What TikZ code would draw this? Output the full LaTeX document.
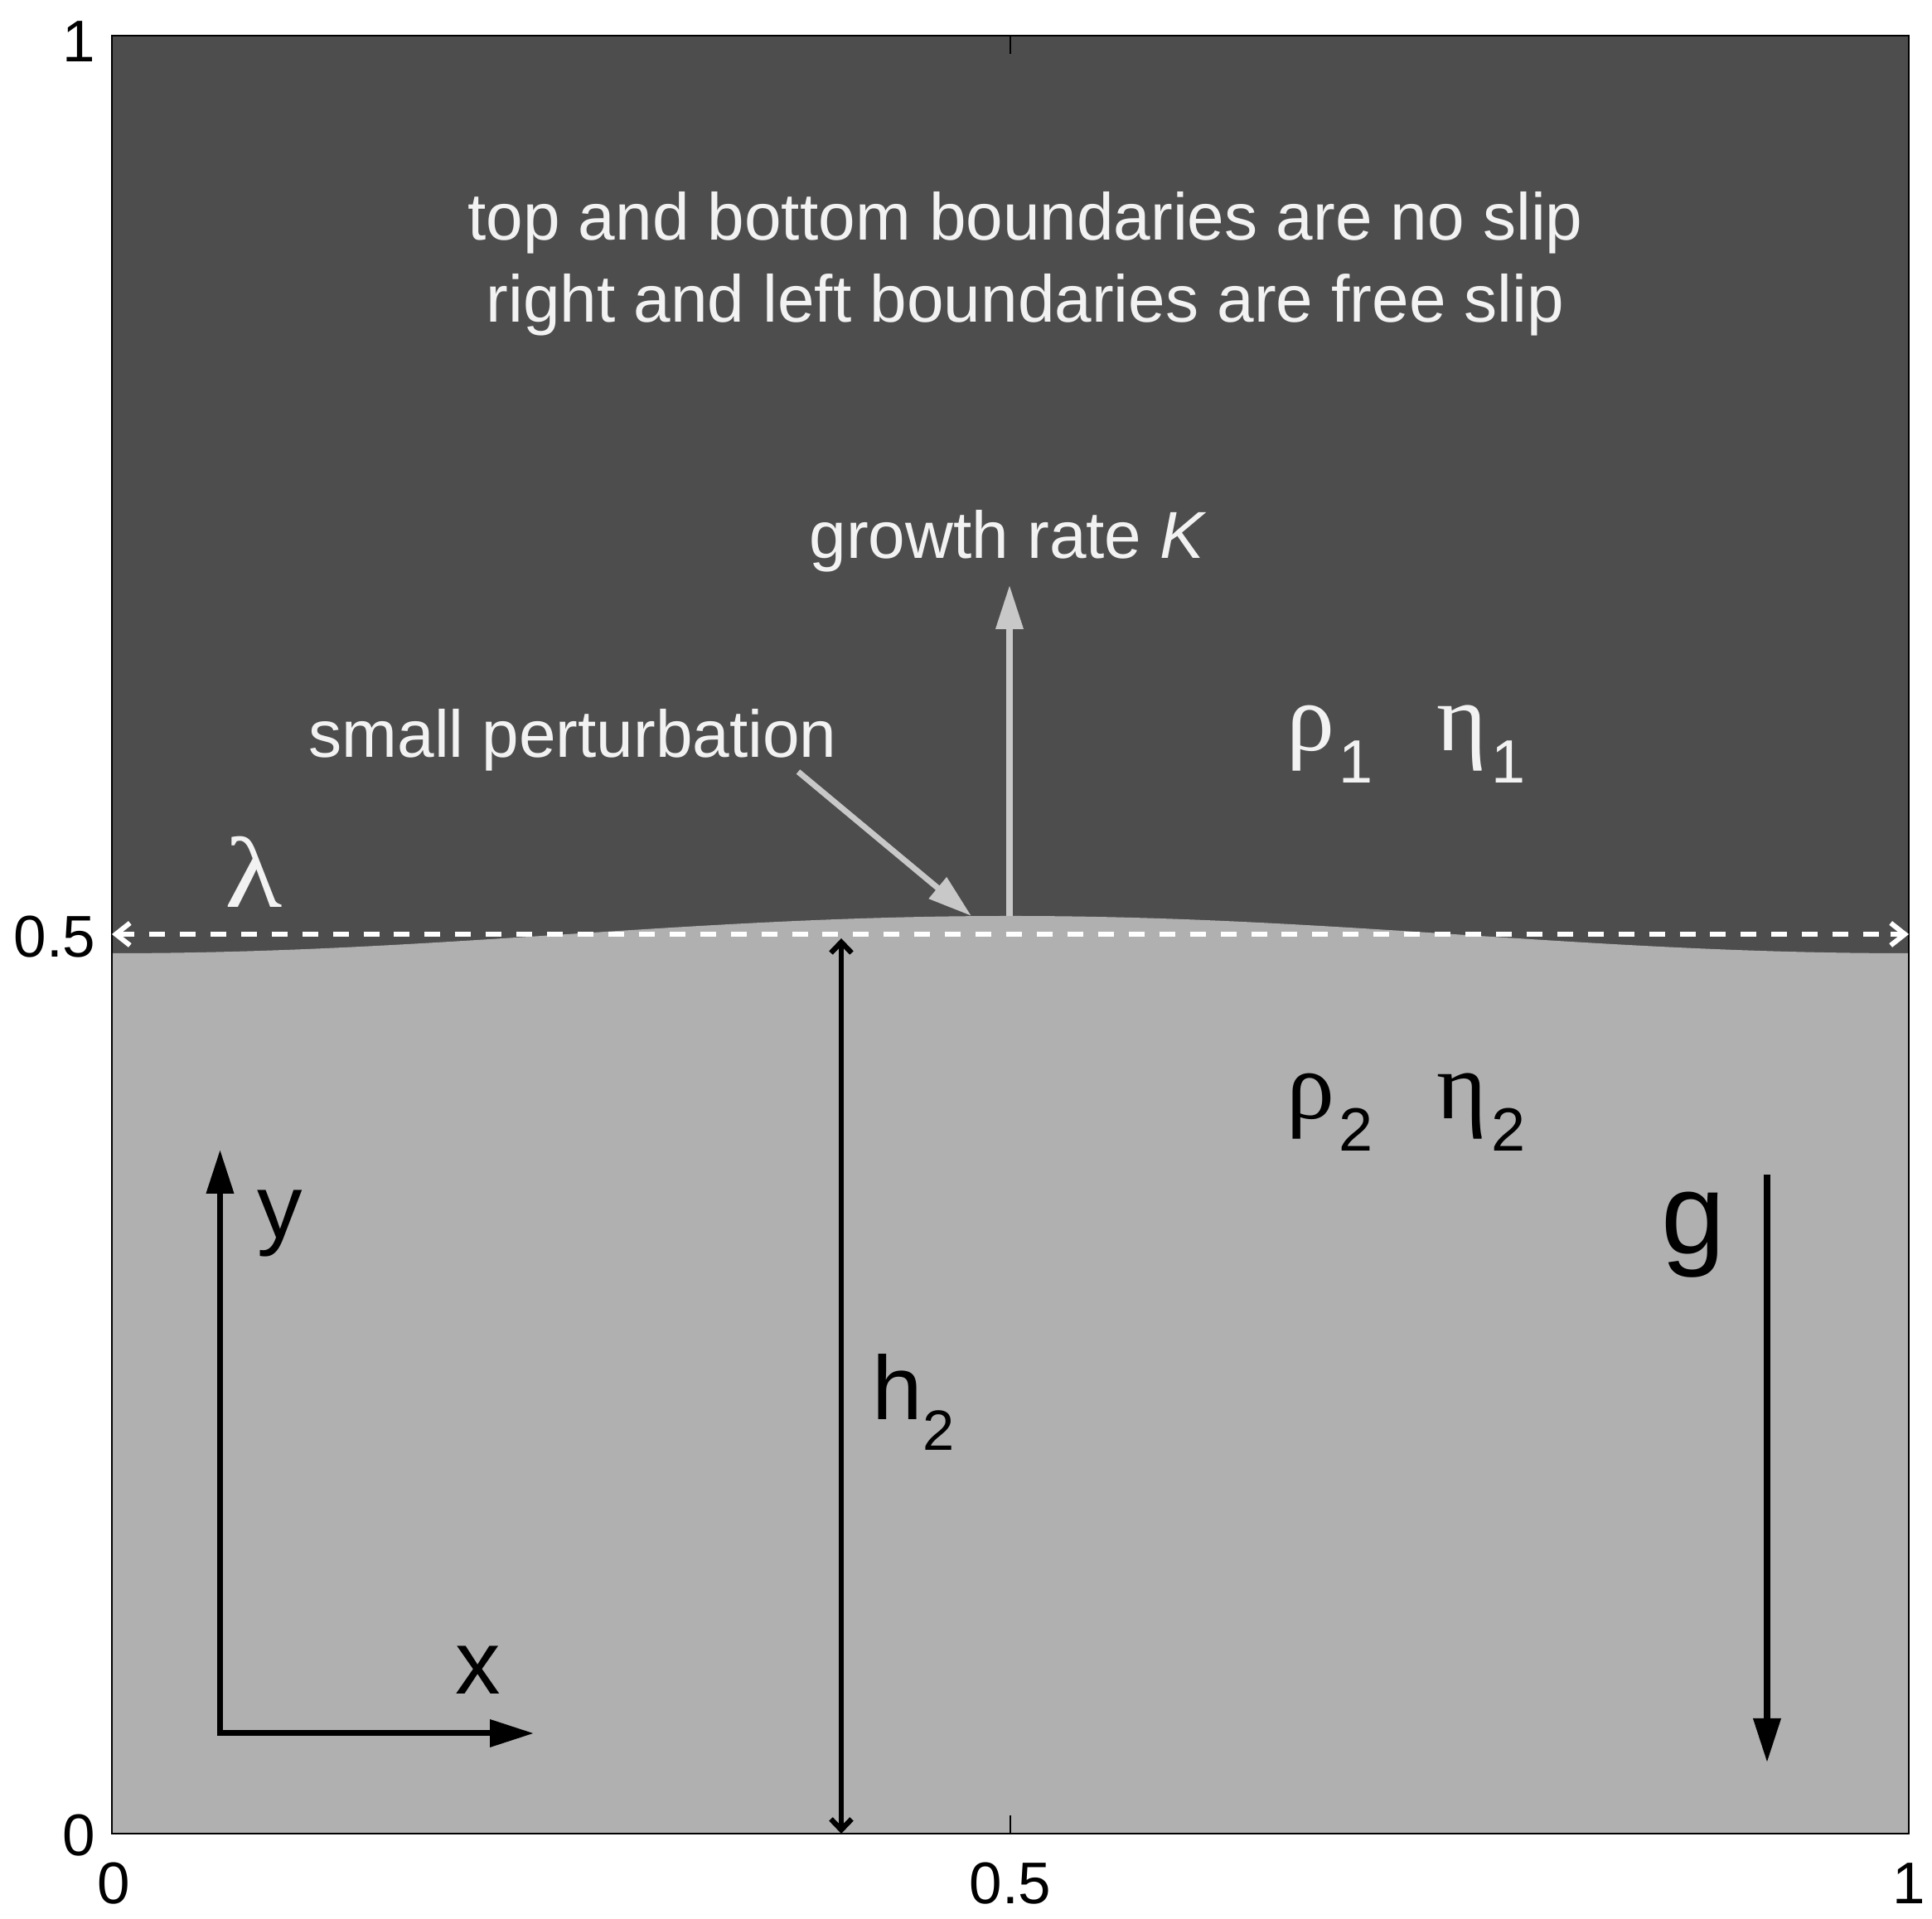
\documentclass[tikz,border=0pt]{standalone}
\usepackage{fontspec}
\usetikzlibrary{arrows.meta}
\setmainfont{Liberation Sans}
\setsansfont{Liberation Sans}
\newfontfamily\greekfont{Liberation Serif}
\definecolor{upperfluid}{HTML}{4D4D4D}
\definecolor{lowerfluid}{HTML}{B0B0B0}
\definecolor{paletext}{HTML}{F2F2F2}
\definecolor{palearrow}{HTML}{C8C8C8}
\newcommand{\boxll}[0]{(1.35, 1.03)}
\newcommand{\boxur}[0]{(23.03, 22.72)}
\newcommand{\boxlr}[0]{(23.03, 1.03)}
\newcommand{\latinsub}[2]{#1\raisebox{-0.37cm}{\fontsize{19.5}{20}\selectfont\sffamily #2}}
\newcommand{\greeksub}[2]{#1\hspace{0.05cm}\raisebox{-0.385cm}{\fontsize{21}{22}\selectfont\sffamily #2}}
\tikzset{
  ticklabel/.style={font=\fontsize{20.2}{25}\selectfont, inner sep=0pt},
  notelabel/.style={font=\fontsize{22.8}{27}\selectfont, text=paletext, inner sep=0pt, anchor=base},
  biglabel/.style={font=\fontsize{31}{36}\selectfont, inner sep=0pt, anchor=base},
  greeklabel/.style={font=\fontsize{33}{36}\selectfont\greekfont, inner sep=0pt, anchor=base west},
  palearrowline/.style={draw=palearrow, line width=2pt, -{Triangle[length=0.53cm, width=0.32cm]}},
  darkarrowline/.style={draw=black, line width=2pt, -{Triangle[length=0.53cm, width=0.32cm]}},
  heightline/.style={line width=1.8pt, {Straight Barb[length=0.13cm, width=0.25cm, line width=1.8pt]}-{Straight Barb[length=0.13cm, width=0.25cm, line width=1.8pt]}},
  waveline/.style={white, line width=1.7pt, -{Straight Barb[length=0.17cm, width=0.27cm, line width=1.7pt]}},
  wavedash/.style={white, line width=1.7pt, dash pattern=on 0.19cm off 0.1793cm}
}

\begin{document}
\begin{tikzpicture}
\useasboundingbox (0, 0) rectangle (23.31, 23.15);
\fill [upperfluid] \boxll{} rectangle \boxur{};
\fill [lowerfluid] \boxll{} -- plot [domain=0:1, samples=121] ({1.35 + 21.68*\x}, {11.875 - 0.225*cos(360*\x)}) -- \boxlr{} -- cycle;
% ticks
\draw [line width=0.6pt] (12.19, 1.03) -- (12.19, 1.25);
\draw [line width=0.6pt] (12.19, 22.72) -- (12.19, 22.50);
\draw [line width=0.6pt] (1.35, 11.88) -- (1.57, 11.88);
\draw [line width=0.6pt] (23.03, 11.88) -- (22.81, 11.88);
\draw [line width=0.8pt] \boxll{} rectangle \boxur{};
% tick labels
\node [ticklabel, anchor=base] (xzero) at (1.37, 0.18) {0};
\node [ticklabel, anchor=base] (xhalf) at (12.19, 0.18) {0.5};
\node [ticklabel, anchor=base] (xone) at (23.03, 0.18) {1};
\node [ticklabel, anchor=base east] (yzero) at (1.16, 0.76) {0};
\node [ticklabel, anchor=base east] (yhalf) at (1.16, 11.60) {0.5};
\node [ticklabel, anchor=base east] (yone) at (1.16, 22.40) {1};
% wavelength
\coordinate (waveleft) at (1.35, 11.88);
\coordinate (waveleftend) at (1.62, 11.88);
\coordinate (wavedashleft) at (1.80, 11.88);
\coordinate (wavedashright) at (22.67, 11.88);
\coordinate (waverightend) at (22.81, 11.88);
\coordinate (waveright) at (23.03, 11.88);
\draw [waveline] (waveleftend) -- (waveleft);
\draw [waveline] (waverightend) -- (waveright);
\draw [wavedash] (wavedashleft) -- (wavedashright);
\node [greeklabel, text=paletext, font=\fontsize{34.5}{40}\selectfont\greekfont] (wavelabel) at (2.71, 12.20) {\scalebox{1.18}[1]{λ}};
% growth
\coordinate (growthfoot) at (12.18, 12.10);
\coordinate (growthtip) at (12.18, 16.09);
\draw [palearrowline] (growthfoot) -- (growthtip);
\node [notelabel, anchor=base west] (growthlabel) at (9.76, 16.41) {growth rate \textit{K}};
\coordinate (perturbfoot) at (9.63, 13.84);
\coordinate (perturbtip) at (11.72, 12.10);
\draw [palearrowline] (perturbfoot) -- (perturbtip);
\node [notelabel, anchor=base west] (perturblabel) at (3.72, 14.01) {small perturbation};
% boundaries
\node [notelabel] (noslip) at (12.37, 20.25) {top and bottom boundaries are no slip};
\node [notelabel] (freeslip) at (12.37, 19.26) {right and left boundaries are free slip};
% fluids
\node [greeklabel, text=paletext] (rhoupper) at (15.52, 14.09) {\greeksub{ρ}{1}};
\node [greeklabel, text=paletext] (etaupper) at (17.33, 14.09) {\greeksub{η}{1}};
\node [greeklabel] (rholower) at (15.52, 9.65) {\greeksub{ρ}{2}};
\node [greeklabel] (etalower) at (17.33, 9.65) {\greeksub{η}{2}};
% height
\coordinate (heightfoot) at (10.15, 1.03);
\coordinate (heighttop) at (10.15, 11.83);
\draw [heightline, black] (heightfoot) -- (heighttop);
\node [biglabel, anchor=base west] (heightlabel) at (10.52, 6.02) {\latinsub{h}{2}};
% axes
\coordinate (axesorigin) at (2.655, 2.24);
\coordinate (axesy) at (2.655, 9.28);
\coordinate (axesx) at (6.44, 2.24);
\draw [darkarrowline, {Triangle[length=0.53cm, width=0.32cm]}-{Triangle[length=0.53cm, width=0.32cm]}] (axesy) -- (axesorigin) -- (axesx);
\node [biglabel] (xlabel) at (5.77, 2.71) {x};
\node [biglabel] (ylabel) at (3.38, 8.21) {y};
% gravity
\coordinate (gravitytop) at (21.32, 8.98);
\coordinate (gravitytip) at (21.32, 1.89);
\draw [darkarrowline] (gravitytop) -- (gravitytip);
\node [biglabel, font=\fontsize{39.5}{44}\selectfont] (gravitylabel) at (20.43, 8.02) {g};
\end{tikzpicture}
\end{document}
